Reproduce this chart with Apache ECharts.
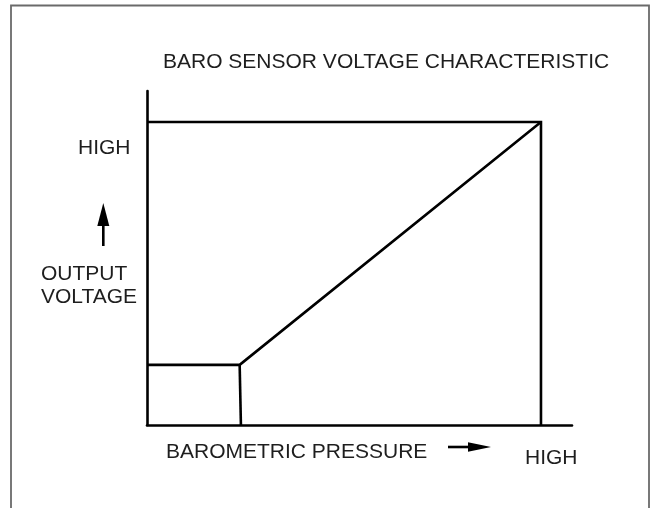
<!DOCTYPE html>
<html>
<head>
<meta charset="utf-8">
<script src="https://cdn.jsdelivr.net/npm/echarts@6/dist/echarts.min.js"></script>
<style>
  html, body { margin: 0; padding: 0; background: #fff; }
  #chart { width: 650px; height: 508px; }
</style>
</head>
<body>
<div id="chart"></div>
<script>
// Relative scale: 0 = origin, axis ends at 100; "HIGH" marks sit just inside.
const highPressure = 92.7;
const highVoltage = 90.7;

// Sensor output: clamped floor at low pressure, then a linear rise to HIGH/HIGH.
const characteristic = [[0, 18], [21.8, 18], [highPressure, highVoltage]];
// Drop line from the knee of the curve to the pressure axis.
const kneeDrop = [[21.8, 18], [22.1, 0]];
// Reference lines at the HIGH voltage and HIGH pressure levels.
const highBounds = [[0, highVoltage], [highPressure, highVoltage], [highPressure, 0]];

const titleText = 'BARO SENSOR VOLTAGE CHARACTERISTIC';
const xLabel = 'BAROMETRIC PRESSURE';
const yLabelLines = ['OUTPUT', 'VOLTAGE'];
const highLabel = 'HIGH';

const FONT = '"Liberation Sans", Arial, Helvetica, sans-serif';
const TEXT_COLOR = '#1e1e1e';
const STROKE = 2.6;

function lineSeries(name, data) {
  return {
    name: name,
    type: 'line',
    data: data,
    symbol: 'none',
    silent: true,
    animation: false,
    lineStyle: { color: '#000', width: STROKE, join: 'miter' },
    z: 3
  };
}

function label(text, x, y, align) {
  return {
    type: 'text',
    x: x,
    y: y,
    silent: true,
    style: {
      text: text,
      font: '21px ' + FONT,
      fill: TEXT_COLOR,
      align: align || 'left',
      verticalAlign: 'middle'
    }
  };
}

const chart = echarts.init(document.getElementById('chart'), null, { renderer: 'canvas' });

chart.setOption({
  animation: false,
  backgroundColor: '#fff',
  grid: { left: 147, right: 78, top: 91, bottom: 83, containLabel: false },
  xAxis: {
    type: 'value',
    min: 0,
    max: 100,
    axisLine: { show: true, lineStyle: { color: '#000', width: STROKE } },
    axisTick: { show: false },
    axisLabel: { show: false },
    splitLine: { show: false }
  },
  yAxis: {
    type: 'value',
    min: 0,
    max: 100,
    axisLine: { show: true, lineStyle: { color: '#000', width: STROKE } },
    axisTick: { show: false },
    axisLabel: { show: false },
    splitLine: { show: false }
  },
  series: [
    lineSeries('characteristic', characteristic),
    lineSeries('kneeDrop', kneeDrop),
    lineSeries('highBounds', highBounds)
  ],
  graphic: [
    // outer panel border, open at the bottom
    {
      type: 'rect',
      silent: true,
      shape: { x: 11, y: 5.5, width: 638, height: 620 },
      style: { fill: 'none', stroke: '#6a6a6a', lineWidth: 1.8 }
    },
    label(titleText, 163, 62),
    label(highLabel, 78, 148),
    label(yLabelLines[0], 41, 274.5),
    label(yLabelLines[1], 41, 297.5),
    label(xLabel, 166, 452.5),
    label(highLabel, 525, 458),
    // upward arrow beside the voltage label
    {
      type: 'line',
      silent: true,
      shape: { x1: 103.3, y1: 246, x2: 103.3, y2: 222 },
      style: { stroke: '#000', lineWidth: 2.6 }
    },
    {
      type: 'polygon',
      silent: true,
      shape: { points: [[103.3, 203], [97.3, 226], [109.3, 226]] },
      style: { fill: '#000' }
    },
    // rightward arrow after the pressure label
    {
      type: 'line',
      silent: true,
      shape: { x1: 448, y1: 447, x2: 472, y2: 447 },
      style: { stroke: '#000', lineWidth: 2.6 }
    },
    {
      type: 'polygon',
      silent: true,
      shape: { points: [[491, 447], [468, 442.3], [468, 451.7]] },
      style: { fill: '#000' }
    }
  ]
});
</script>
</body>
</html>
